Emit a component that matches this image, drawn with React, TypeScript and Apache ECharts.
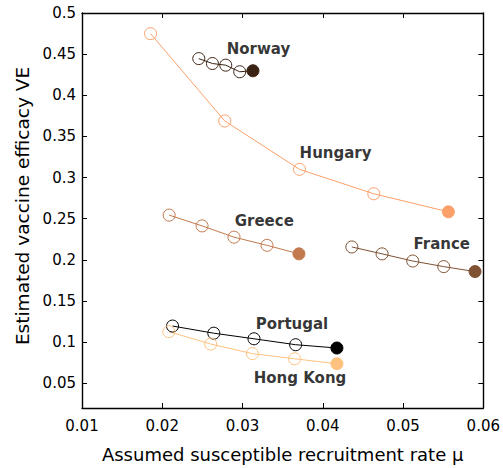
import React, { useEffect, useRef } from "react";
import * as echarts from "echarts";

const countries = ["Norway", "Hungary", "Greece", "France", "Portugal", "Hong Kong"];
const colors = ["#3B2314", "#FCA06A", "#C27A4E", "#7E5233", "#000000", "#FDC27F"];

const norwayX = [0.02455, 0.02625, 0.02791, 0.02965, 0.0313];
const norwayY = [0.4446, 0.4386, 0.4366, 0.4286, 0.4298];
const hungaryX = [0.01854, 0.02779, 0.0371, 0.04636, 0.05565];
const hungaryY = [0.4749, 0.3688, 0.310, 0.2803, 0.2584];
const greeceX = [0.02086, 0.02496, 0.02894, 0.03305, 0.03703];
const greeceY = [0.2544, 0.2413, 0.2276, 0.2177, 0.2073];
const franceX = [0.04362, 0.04739, 0.05121, 0.05507, 0.05897];
const franceY = [0.2157, 0.2073, 0.1986, 0.1918, 0.1858];
const portugalX = [0.02128, 0.02642, 0.03143, 0.03662, 0.04176];
const portugalY = [0.1196, 0.1109, 0.1041, 0.0969, 0.0929];
const hongKongX = [0.02082, 0.02604, 0.03123, 0.03649, 0.04176];
const hongKongY = [0.1128, 0.0977, 0.0861, 0.0798, 0.0738];

// label anchors (left edge, vertical middle) in data units
const labelX = [0.02803, 0.03711, 0.02903, 0.0513, 0.03164, 0.0314];
const labelY = [0.4557, 0.3301, 0.2476, 0.2189, 0.122, 0.0562];

const xTitle = "Assumed susceptible recruitment rate μ";
const yTitle = "Estimated vaccine efficacy VE";

const xs = [norwayX, hungaryX, greeceX, franceX, portugalX, hongKongX];
const ys = [norwayY, hungaryY, greeceY, franceY, portugalY, hongKongY];

const FONT = "DejaVu Sans";

export default function App() {
  const ref = useRef<HTMLDivElement>(null);
  useEffect(() => {
    if (!ref.current) return;
    const chart = echarts.init(ref.current, undefined, { renderer: "svg" });
    const lineSeries = countries.map((name, i) => ({
      type: "line",
      name,
      xAxisIndex: 0,
      yAxisIndex: 0,
      symbol: "circle",
      symbolSize: 12,
      lineStyle: { color: colors[i], width: 1 },
      itemStyle: { color: "rgba(0,0,0,0)", borderColor: colors[i], borderWidth: 1 },
      data: xs[i].map((x, j) =>
        j === xs[i].length - 1
          ? { value: [x, ys[i][j]], itemStyle: { color: colors[i], borderColor: colors[i] } }
          : { value: [x, ys[i][j]] }
      ),
      z: 3,
    }));
    const labelSeries = {
      type: "scatter",
      symbolSize: 0,
      silent: true,
      data: countries.map((n, i) => ({ name: n, value: [labelX[i], labelY[i]] })),
      label: {
        show: true,
        position: "right",
        distance: 0,
        formatter: (p: any) => p.name,
        fontFamily: FONT,
        fontWeight: "bold",
        fontSize: 15,
        color: "#000",
      },
      z: 5,
    };
    const axisLine = { show: true, lineStyle: { color: "#000", width: 1.4 } };
    const axisTick = { show: true, inside: true, length: 5, lineStyle: { color: "#000", width: 1 } };
    chart.setOption({
      animation: false,
      grid: { left: 82, right: 19, top: 13, bottom: 55, containLabel: false },
      graphic: [
        {
          type: "text",
          x: 22,
          y: 206,
          rotation: Math.PI / 2,
          style: {
            text: yTitle,
            fontFamily: FONT,
            fontSize: 18.5,
            fill: "#000",
            align: "center",
            verticalAlign: "middle",
          },
        },
      ],
      xAxis: [
        {
          type: "value",
          min: 0.01,
          max: 0.06,
          interval: 0.01,
          axisLine,
          axisTick,
          splitLine: { show: false },
          axisLabel: { fontFamily: FONT, fontSize: 15, color: "#000", margin: 10 },
          name: xTitle,
          nameLocation: "middle",
          nameGap: 37,
          nameTextStyle: { fontFamily: FONT, fontSize: 18, color: "#000" },
        },
        {
          type: "value",
          position: "top",
          min: 0.01,
          max: 0.06,
          interval: 0.01,
          axisLine,
          axisTick,
          splitLine: { show: false },
          axisLabel: { show: false },
        },
      ],
      yAxis: [
        {
          type: "value",
          min: 0.02,
          max: 0.5,
          splitNumber: 10,
          axisLine,
          axisTick,
          splitLine: { show: false },
          axisLabel: { fontFamily: FONT, fontSize: 15, color: "#000", margin: 6, showMinLabel: false },
        },
        {
          type: "value",
          position: "right",
          min: 0.02,
          max: 0.5,
          splitNumber: 10,
          axisLine,
          axisTick,
          splitLine: { show: false },
          axisLabel: { show: false },
        },
      ],
      series: [...lineSeries, labelSeries],
    });
    return () => chart.dispose();
  }, []);
  return (
    <div
      ref={ref}
      style={{ position: "absolute", left: 0, top: 0, width: 503, height: 468, background: "#fff" }}
    />
  );
}
